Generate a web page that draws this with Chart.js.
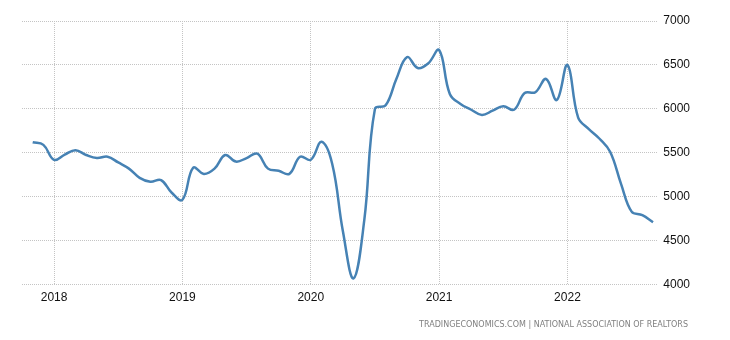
<!DOCTYPE html>
<html>
<head>
<meta charset="utf-8">
<script src="https://cdn.jsdelivr.net/npm/chart.js@4"></script>
<style>
  html, body { margin: 0; padding: 0; background: #fff; }
  #wrap { width: 730px; height: 340px; position: relative; }
</style>
</head>
<body>
<div id="wrap"><canvas id="myChart" width="730" height="340"></canvas></div>
<script>
// first month of the series and the monthly values (thousands, SAAR)
const startYear = 2017;
const startMonth = 11;
const sales = [
  5620, 5590, 5420, 5480, 5530, 5475, 5440, 5455, 5390, 5320, 5215, 5170, 5190, 5045,
  4965, 5330, 5260, 5320, 5475, 5400, 5440, 5490, 5320, 5295, 5260, 5455,
  5420, 5625, 5375, 4610, 4070, 4730, 6000, 6040, 6340, 6590, 6465, 6520,
  6670, 6170, 6055, 5990, 5930, 5980, 6030, 5990, 6180, 6190, 6340, 6100,
  6500, 5900, 5770, 5660, 5510, 5150, 4830, 4790, 4710
];
const yearLabels = ['2018', '2019', '2020', '2021', '2022'];
const yTicks = [4000, 4500, 5000, 5500, 6000, 6500, 7000];

// months counted from Jan 2018
const offset = (startYear - 2018) * 12 + (startMonth - 1);
const points = sales.map((v, i) => ({ x: offset + i, y: v }));

const gridColor = '#c4c4c4';

const footer = {
  id: 'footer',
  afterDraw(chart) {
    const ctx = chart.ctx;
    ctx.save();
    ctx.font = '8px "DejaVu Sans", sans-serif';
    ctx.fillStyle = '#808080';
    ctx.textAlign = 'right';
    ctx.textBaseline = 'middle';
    ctx.fillText('TRADINGECONOMICS.COM | NATIONAL ASSOCIATION OF REALTORS', 688, 325);
    ctx.restore();
  }
};

const ctx = document.getElementById('myChart').getContext('2d');
new Chart(ctx, {
  type: 'line',
  data: {
    datasets: [{
      data: points,
      borderColor: '#4682b4',
      borderWidth: 2.5,
      pointRadius: 0,
      tension: 0.4,
      fill: false
    }]
  },
  options: {
    responsive: false,
    animation: false,
    layout: { padding: { left: 22, top: 21, right: 34, bottom: 29 } },
    plugins: { legend: { display: false }, tooltip: { enabled: false } },
    scales: {
      x: {
        type: 'linear',
        min: offset - 1,
        max: offset + sales.length - 1 + 0.4,
        afterBuildTicks: axis => {
          axis.ticks = yearLabels.map((l, i) => ({ value: i * 12 }));
        },
        ticks: {
          callback: (v) => yearLabels[v / 12],
          font: { family: '"Liberation Sans", Arial, sans-serif', size: 12 },
          color: '#111',
          padding: 6,
          maxRotation: 0
        },
        grid: { color: gridColor, drawTicks: false },
        border: { display: false, dash: [1, 1] }
      },
      y: {
        position: 'right',
        min: 4000,
        max: 7000,
        afterBuildTicks: axis => {
          axis.ticks = yTicks.map(v => ({ value: v }));
        },
        ticks: {
          callback: (v) => String(v),
          font: { family: '"Liberation Sans", Arial, sans-serif', size: 12 },
          color: '#111',
          padding: 6
        },
        grid: { color: gridColor, drawTicks: false },
        border: { display: false, dash: [1, 1] }
      }
    }
  },
  plugins: [footer]
});
</script>
</body>
</html>
